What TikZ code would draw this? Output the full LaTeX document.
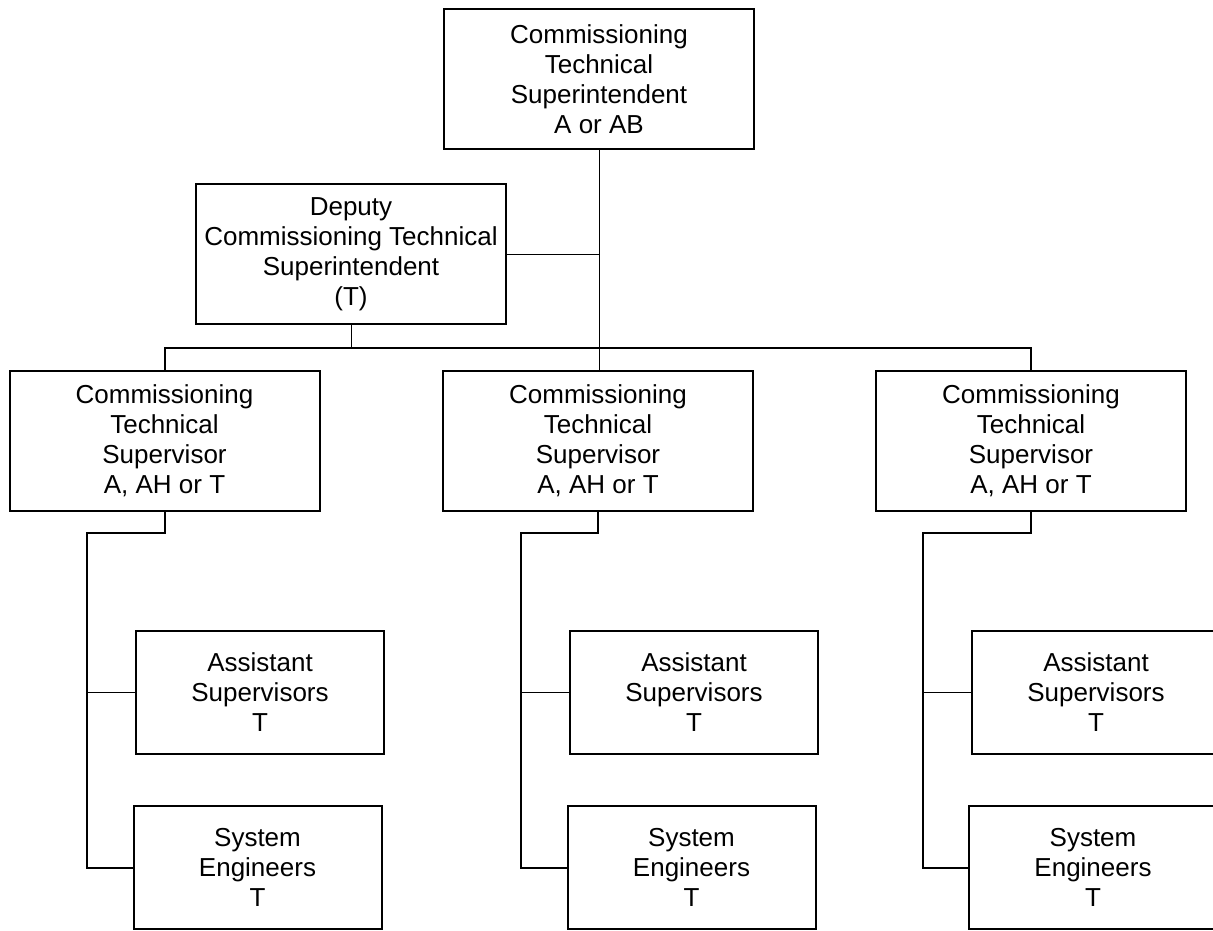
\documentclass[tikz,border=0pt]{standalone}
\usepackage{fontspec}
\setmainfont{Liberation Sans}
\begin{document}
\begin{tikzpicture}[x=1pt,y=-1pt,
  bigbox/.style={draw=black, line width=2pt, fill=white, minimum width=310pt, minimum height=140pt, inner sep=0pt, align=center, font=\fontsize{26}{30}\selectfont},
  smallbox/.style={draw=black, line width=2pt, fill=white, minimum width=248pt, minimum height=123pt, inner sep=0pt, align=center, font=\fontsize{26}{30}\selectfont},
  thinline/.style={line width=1pt},
  thickline/.style={line width=2pt}]
\useasboundingbox (0,0) rectangle (1213,931);
\clip (0,0) rectangle (1213,931);
% nodes
\node[bigbox] (top) at (599,79) {Commissioning\\Technical\\Superintendent\\A or AB};
\node[bigbox] (dep) at (351,254) {Deputy\\Commissioning Technical\\Superintendent\\(T)};
\node[bigbox] (s1) at (164.5,441) {Commissioning\\Technical\\Supervisor\\A, AH or T};
\node[bigbox] (s2) at (598,441) {Commissioning\\Technical\\Supervisor\\A, AH or T};
\node[bigbox] (s3) at (1031,441) {Commissioning\\Technical\\Supervisor\\A, AH or T};
\node[smallbox] (a1) at (260,692.5) {Assistant\\Supervisors\\T};
\node[smallbox] (a2) at (694,692.5) {Assistant\\Supervisors\\T};
\node[smallbox] (a3) at (1096,692.5) {Assistant\\Supervisors\\T};
\node[smallbox] (e1) at (257.5,867.5) {System\\Engineers\\T};
\node[smallbox] (e2) at (691.5,867.5) {System\\Engineers\\T};
\node[smallbox] (e3) at (1093,867.5) {System\\Engineers\\T};
% coordinates
\coordinate (busL) at (164.5,347.5);
\coordinate (busR) at (1031,347.5);
\coordinate (k1) at (87,533);
\coordinate (k2) at (521,533);
\coordinate (k3) at (923,533);
% connectors
\draw[thinline] (top.south) -- (top.south |- s2.north);
\draw[thinline] (dep.east) -- (dep.east -| top.south);
\draw[thinline] (dep.south) -- (dep.south |- busL);
\draw[thickline] (s1.north) -- (busL) -- (busR) -- (s3.north);
\foreach \i in {1,2,3}{
  \draw[thickline] (s\i.south) |- (k\i) |- (e\i.west);
  \draw[thinline] (a\i.west) -- (a\i.west -| k\i);
}
\end{tikzpicture}
\end{document}
